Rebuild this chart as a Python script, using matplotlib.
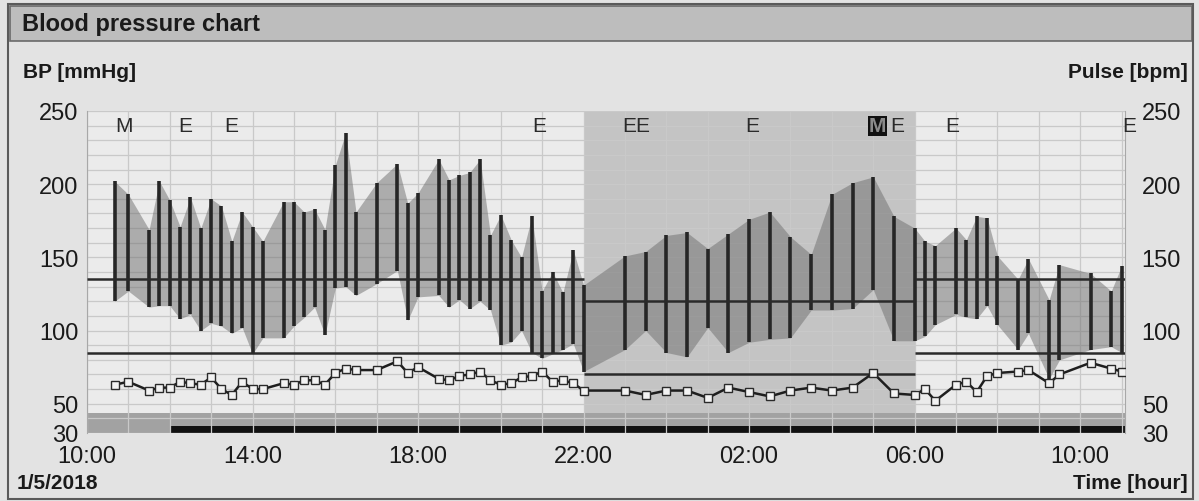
import matplotlib
matplotlib.use("Agg")
import matplotlib.pyplot as plt
from matplotlib.patches import Rectangle
from matplotlib.ticker import MultipleLocator
import numpy as np

plt.rcParams["font.family"] = ["Liberation Sans", "DejaVu Sans"]

# measurements, starting 1/5/2018
times = ["10:40", "11:00", "11:30", "11:45", "12:00", "12:15", "12:30", "12:45",
         "13:00", "13:15", "13:30", "13:45", "14:00", "14:15", "14:45", "15:00",
         "15:15", "15:30", "15:45", "16:00", "16:15", "16:30", "17:00", "17:30",
         "17:45", "18:00", "18:30", "18:45", "19:00", "19:15", "19:30", "19:45",
         "20:00", "20:15", "20:30", "20:45", "21:00", "21:15", "21:30", "21:45",
         "22:00", "23:00", "23:30", "00:00", "00:30", "01:00", "01:30", "02:00",
         "02:30", "03:00", "03:30", "04:00", "04:30", "05:00", "05:30", "06:00",
         "06:15", "06:30", "07:00", "07:15", "07:30", "07:45", "08:00", "08:30",
         "08:45", "09:15", "09:30", "10:15", "10:45", "11:00"]
systolic = [202, 193, 169, 202, 189, 171, 191, 170, 190, 185, 161, 181, 171, 161,
            188, 188, 181, 183, 169, 213, 235, 181, 201, 214, 187, 194, 217, 203,
            206, 208, 217, 165, 179, 162, 150, 178, 127, 140, 126, 155, 131, 151,
            154, 165, 167, 156, 166, 176, 181, 164, 152, 193, 201, 205, 178, 170,
            161, 158, 170, 162, 178, 177, 151, 135, 149, 121, 145, 139, 127, 144]
diastolic = [120, 127, 116, 117, 117, 108, 111, 100, 105, 103, 98, 102, 84, 95,
             95, 103, 109, 116, 97, 129, 130, 124, 132, 141, 107, 123, 124, 116,
             121, 115, 120, 114, 90, 92, 100, 85, 81, 84, 87, 91, 72, 87,
             100, 85, 82, 102, 85, 92, 94, 95, 114, 114, 115, 128, 93, 93,
             96, 104, 111, 109, 108, 117, 104, 87, 98, 67, 80, 87, 89, 85]
pulse = [63, 65, 59, 61, 61, 65, 64, 63, 68, 60, 56, 65, 60, 60,
         64, 63, 66, 66, 63, 71, 74, 73, 73, 79, 71, 75, 67, 66,
         69, 70, 72, 66, 63, 64, 68, 69, 72, 65, 66, 64, 59, 59,
         56, 59, 59, 54, 61, 58, 55, 59, 61, 59, 61, 71, 57, 56,
         60, 52, 63, 65, 58, 69, 71, 72, 73, 64, 70, 78, 74, 72]

event_times = ["10:53", "12:22", "13:29", "20:56", "23:17", "02:04",
               "05:06", "05:35", "06:55", "11:11"]
event_labels = ["M", "E", "E", "E", "EE", "E", "M", "E", "E", "E"]
event_boxed = [False, False, False, False, False, False, True, False, False, False]

# day / night / day limits
limit_edges = ["10:00", "22:00", "06:00", "11:05"]
limit_sys = [135, 120, 135]
limit_dia = [85, 70, 85]
activity_start = "12:00"

xtick_labels = ["10:00", "14:00", "18:00", "22:00", "02:00", "06:00", "10:00"]
ytick_values = [30, 50, 100, 150, 200, 250]


def unwrap(hhmm):
    # hh:mm strings -> running hours, adding a day when the clock wraps
    out, day, prev = [], 0, -1
    for s in hhmm:
        h, m = s.split(":")
        v = int(h) + int(m) / 60
        if v < prev:
            day += 24
        prev = v
        out.append(v + day)
    return np.array(out)


t = unwrap(times)
ev_t = unwrap(event_times)
edges = unwrap(limit_edges)
xt = unwrap(xtick_labels)
act0 = unwrap([activity_start])[0]

fig = plt.figure(figsize=(11.99, 5.02), dpi=100, facecolor="#e3e3e3")

# title bar and frame
fig.patches.append(Rectangle((10 / 1199, 1 - 42 / 502), 1182 / 1199, 35 / 502,
                             transform=fig.transFigure, facecolor="#bdbdbd",
                             edgecolor="#6a6a6a", lw=1.2, zorder=0))
fig.patches.append(Rectangle((8 / 1199, 2 / 502), 1185 / 1199, 495 / 502,
                             transform=fig.transFigure, facecolor="none",
                             edgecolor="#5a5a5a", lw=1.5, zorder=0))
fig.text(22 / 1199, 1 - 25 / 502, "Blood pressure chart", fontsize=17,
         fontweight="bold", color="#1a1a1a", va="center", ha="left")
fig.text(23 / 1199, 1 - 73 / 502, "BP [mmHg]", fontsize=15, fontweight="bold",
         color="#1a1a1a", va="center", ha="left")
fig.text(1188 / 1199, 1 - 73 / 502, "Pulse [bpm]", fontsize=15, fontweight="bold",
         color="#1a1a1a", va="center", ha="right")
fig.text(17 / 1199, 1 - 484 / 502, "1/5/2018", fontsize=15, fontweight="bold",
         color="#1a1a1a", va="center", ha="left")
fig.text(1188 / 1199, 1 - 484 / 502, "Time [hour]", fontsize=15, fontweight="bold",
         color="#1a1a1a", va="center", ha="right")

ax = fig.add_axes([87 / 1199, 1 - 434 / 502, 1038 / 1199, 322 / 502])
ax.set_facecolor("#ebebeb")
ax.set_xlim(edges[0], edges[-1])
ax.set_ylim(30, 250)

# night shading and activity band
ax.axvspan(edges[1], edges[2], color="#c4c4c4", lw=0, zorder=0.1)
ax.axhspan(30, 44, color="#a2a2a2", lw=0, zorder=0.3)
ax.fill_between([act0, edges[-1]], 30, 35, color="#111111", lw=0, zorder=0.4)

# grid
ax.xaxis.set_minor_locator(MultipleLocator(1))
ax.yaxis.set_minor_locator(MultipleLocator(10))
ax.set_axisbelow(True)
ax.grid(which="both", color="#c9c9c9", lw=0.9)

# BP envelope and readings
ax.fill_between(t, diastolic, systolic, color="#6e6e6e", alpha=0.5, lw=0, zorder=2)
ax.vlines(t, diastolic, systolic, color="#262626", lw=2.6, zorder=3)
ax.hlines(limit_sys, edges[:-1], edges[1:], color="#2a2a2a", lw=1.8, zorder=3)
ax.hlines(limit_dia, edges[:-1], edges[1:], color="#2a2a2a", lw=1.8, zorder=3)

# pulse
ax.plot(t, pulse, color="#1e1e1e", lw=1.8, marker="s", ms=5.5, mfc="#f2f2f2",
        mec="#2a2a2a", mew=1, zorder=4)

# event markers
for x, lab, boxed in zip(ev_t, event_labels, event_boxed):
    if boxed:
        ax.text(x, 240, lab, ha="center", va="center", fontsize=15, color="#8a8a8a",
                fontweight="bold", zorder=5,
                bbox=dict(boxstyle="square,pad=0.02", fc="#111111", ec="none"),
                clip_on=False)
    else:
        ax.text(x, 240, lab, ha="center", va="center", fontsize=15, color="#2a2a2a",
                zorder=5, clip_on=False)

ax.set_xticks(xt)
ax.set_xticklabels(xtick_labels)
ax.set_yticks(ytick_values)
ax.tick_params(which="both", length=0, labelsize=17, colors="#1a1a1a")
ax.tick_params(axis="x", pad=9)
ax.tick_params(axis="y", pad=6)
for side in ["top", "bottom"]:
    ax.spines[side].set_visible(False)
for side in ["left", "right"]:
    ax.spines[side].set_color("#a8a8a8")

ax2 = ax.twinx()
ax2.set_ylim(30, 250)
ax2.set_yticks(ytick_values)
ax2.tick_params(length=0, labelsize=17, colors="#1a1a1a", pad=12)
for s in ax2.spines.values():
    s.set_visible(False)

fig.savefig("out.png", dpi=100, facecolor=fig.get_facecolor())
